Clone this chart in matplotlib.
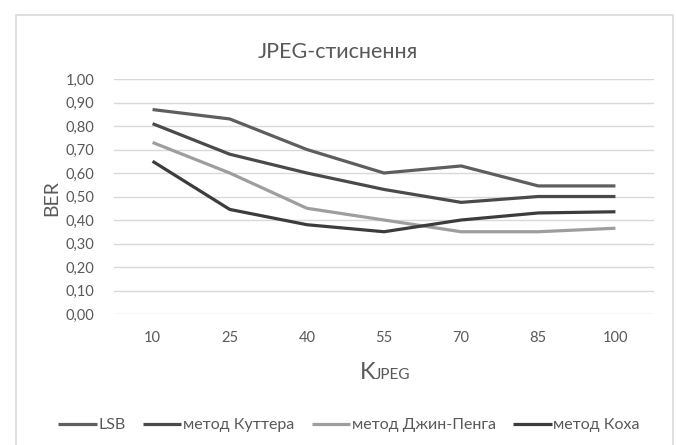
import matplotlib
matplotlib.use("Agg")
import matplotlib.pyplot as plt
import matplotlib.patches

quality = ["10", "25", "40", "55", "70", "85", "100"]
lsb = [0.87, 0.83, 0.70, 0.60, 0.63, 0.545, 0.545]
kutter = [0.81, 0.68, 0.60, 0.53, 0.475, 0.50, 0.50]
jin_peng = [0.73, 0.60, 0.45, 0.40, 0.35, 0.35, 0.365]
koch = [0.65, 0.445, 0.38, 0.35, 0.40, 0.43, 0.435]

series = [
    ("LSB", lsb, "#5e5e5e"),
    ("метод Куттера", kutter, "#4a4a4a"),
    ("метод Джин-Пенга", jin_peng, "#9e9e9e"),
    ("метод Коха", koch, "#3c3c3c"),
]

text_color = "#595959"
plt.rcParams["font.family"] = ["Lato", "DejaVu Sans"]


def main():
    fig = plt.figure(figsize=(6.76, 4.45), dpi=100)
    ax = fig.add_axes([114 / 676, 1 - 314 / 445, 540 / 676, 235 / 445])

    # chart area frame
    fig.patches.append(matplotlib.patches.Rectangle(
        (16 / 676, -0.01), 657 / 676, 1 - 15 / 445 + 0.01,
        transform=fig.transFigure, fill=False, edgecolor="#d9d9d9", lw=1.2))

    x = list(range(len(quality)))
    for name, values, color in series:
        ax.plot(x, values, color=color, lw=2.3, label=name,
                solid_joinstyle="round", solid_capstyle="butt")

    ax.set_xlim(-0.5, len(quality) - 0.5)
    ax.set_ylim(0, 1.0)
    ax.set_xticks(x)
    ax.set_xticklabels(quality)
    yt = [i / 10 for i in range(11)]
    ax.set_yticks(yt)
    ax.set_yticklabels([f"{v:.2f}".replace(".", ",") for v in yt])
    ax.tick_params(length=0, labelsize=10.5, colors=text_color)
    ax.tick_params(axis="x", pad=12)
    ax.tick_params(axis="y", pad=14)
    ax.grid(axis="y", color="#d9d9d9", lw=1)
    ax.set_axisbelow(True)
    for s in ax.spines.values():
        s.set_visible(False)

    fig.text(52 / 676, 1 - 198 / 445, "BER", rotation=90, ha="center",
             va="center", fontsize=14, color=text_color)
    fig.text(0.5, 1 - 52 / 445, "JPEG-стиснення", ha="center", va="center",
             fontsize=15.5, color=text_color)

    # x axis label: K with small JPEG
    fig.text(375 / 676, 1 - 379 / 445, "K", ha="right", va="baseline",
             fontsize=17, color=text_color)
    fig.text(375 / 676, 1 - 379 / 445, "JPEG", ha="left", va="baseline",
             fontsize=11, color=text_color)

    leg = fig.legend(loc="center", bbox_to_anchor=(349 / 676, 1 - 425 / 445),
                     ncol=4, frameon=False, fontsize=11.5, handlelength=2.4,
                     handletextpad=0.1, columnspacing=1.1)
    for t in leg.get_texts():
        t.set_color(text_color)

    fig.savefig("out.png", dpi=100)


if __name__ == "__main__":
    main()
